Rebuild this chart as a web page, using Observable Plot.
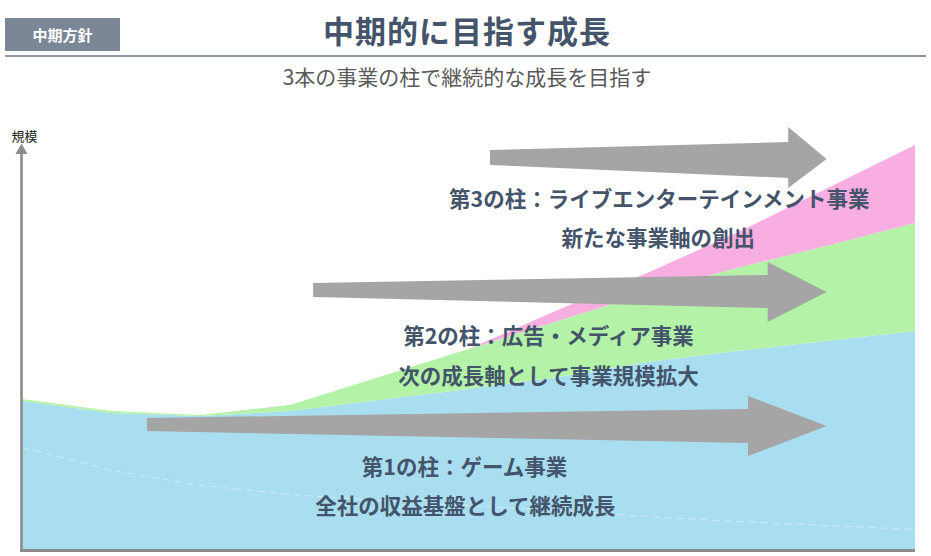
<!DOCTYPE html>
<html>
<head>
<meta charset="utf-8">
<script src="https://cdn.jsdelivr.net/npm/d3@7"></script>
<script src="https://cdn.jsdelivr.net/npm/@observablehq/plot@0.6"></script>
<style>
  html, body { margin: 0; padding: 0; background: #fff; }
  body { width: 931px; height: 556px; overflow: hidden; font-family: "Noto Sans CJK JP", "Noto Sans", sans-serif; }
  #header { position: relative; width: 931px; height: 90px; }
  #tag { position: absolute; left: 5px; top: 18px; width: 115px; height: 33px; background: #7b8796;
         color: #fff; font-weight: bold; font-size: 15px; line-height: 33px; text-align: center; }
  #title { position: absolute; left: 0; width: 934px; top: 7px; text-align: center; font-size: 31px;
           font-weight: bold; color: #44546a; letter-spacing: 1px; }
  #rule { position: absolute; left: 5px; top: 55px; width: 921px; height: 2px; background: #8d99a6; }
  #subtitle { position: absolute; left: 0; width: 934px; top: 61px; text-align: center; font-size: 21px; color: #595959; }
  #chart svg text { font-family: "Noto Sans CJK JP", sans-serif; }
</style>
</head>
<body>
<div id="header">
  <div id="tag">中期方針</div>
  <div id="title">中期的に目指す成長</div>
  <div id="rule"></div>
  <div id="subtitle">3本の事業の柱で継続的な成長を目指す</div>
</div>
<div id="chart"></div>
<script>
// ---- data (conceptual scale) ----
const periods = [0, 1, 2, 3, 4, 5, 6, 7, 8, 9, 10];
const layers = ["ゲーム事業", "広告・メディア事業", "ライブエンターテインメント事業"];
const gameValues  = [148, 136, 133, 138, 149, 160, 172, 187, 198, 208, 218];
const mediaValues = [2, 2, 1, 6, 23, 40, 56, 69, 83, 95, 108];
const liveValues  = [0, 0, 0, 0, 0, 0, 11, 20, 35, 57, 78];
const layerColors = ["#a9def1", "#b3f2a7", "#f9aee1"];
const baseTrend   = [102, 79, 64, 55, 49, 44, 39, 33, 28, 24, 20];

// block arrows (data space): left end, head base, tip
const arrowLeftX  = [1.40, 3.26, 5.24];
const arrowLeftLo = [118, 252, 384];
const arrowLeftHi = [131, 266, 399];
const arrowBaseX  = [8.13, 8.35, 8.58];
const arrowBaseLo = [106, 241, 371];
const arrowBaseHi = [140, 274, 407];
const arrowHeadLo = [93, 227, 361];
const arrowHeadHi = [153, 287, 422];
const arrowTipX   = [9.01, 9.01, 9.01];
const arrowTipY   = [123, 257, 390];

const labelTexts = [
  "第3の柱：ライブエンターテインメント事業", "新たな事業軸の創出",
  "第2の柱：広告・メディア事業", "次の成長軸として事業規模拡大",
  "第1の柱：ゲーム事業", "全社の収益基盤として継続成長"
];
const labelX = [7.13, 7.12, 5.89, 5.89, 4.95, 4.96];
const labelY = [349, 310, 212, 172, 81, 42];

const axisLabel = "規模";
const axisTop = 397;

// ---- build tables ----
const stacked = [];
layers.forEach((layer, li) => {
  const vals = [gameValues, mediaValues, liveValues][li];
  periods.forEach((p, i) => stacked.push({period: p, layer, value: vals[i]}));
});
const trend = periods.map((p, i) => ({period: p, value: baseTrend[i]}));
const arrows = [];
arrowLeftX.forEach((_, k) => {
  arrows.push({k, x: arrowLeftX[k], y1: arrowLeftLo[k], y2: arrowLeftHi[k]});
  arrows.push({k, x: arrowBaseX[k], y1: arrowBaseLo[k], y2: arrowBaseHi[k]});
  arrows.push({k, x: arrowBaseX[k], y1: arrowHeadLo[k], y2: arrowHeadHi[k]});
  arrows.push({k, x: arrowTipX[k], y1: arrowTipY[k], y2: arrowTipY[k]});
});
const labels = labelTexts.map((t, i) => ({t, x: labelX[i], y: labelY[i]}));

const chart = Plot.plot({
  width: 931,
  height: 466,
  marginLeft: 22,
  marginRight: 16,
  marginTop: 59,
  marginBottom: 7,
  x: {domain: [0, 10], axis: null},
  y: {domain: [0, 400], axis: null},
  color: {domain: layers, range: layerColors},
  marks: [
    Plot.areaY(stacked, {x: "period", y: "value", fill: "layer", z: "layer", curve: "linear"}),
    Plot.lineY(trend, {x: "period", y: "value", stroke: "#cfeaf6", strokeWidth: 1, strokeDasharray: "7,5", curve: "linear"}),
    Plot.areaY(arrows, {x: "x", y1: "y1", y2: "y2", z: "k", fill: "#a5a5a5", curve: "linear"}),
    Plot.text(labels, {x: "x", y: "y", text: "t", fontSize: 21.5, fontWeight: "bold", fill: "#44546a", textAnchor: "middle"}),
    Plot.ruleX([0], {y1: 0, y2: axisTop, stroke: "#8c8c8c", strokeWidth: 2.6, dx: -1}),
    Plot.dot([0], {x: d => d, y: () => axisTop, symbol: "triangle", r: 4.5, fill: "#8c8c8c", dx: -1, dy: -2}),
    Plot.ruleY([0], {stroke: "#8c8c8c", strokeWidth: 3, dy: 1, insetLeft: -2}),
    Plot.text([axisLabel], {x: () => 0, y: () => axisTop + 16, text: d => d, fontSize: 13, fill: "#222", dx: 2})
  ]
});
document.getElementById("chart").appendChild(chart);
</script>
</body>
</html>
